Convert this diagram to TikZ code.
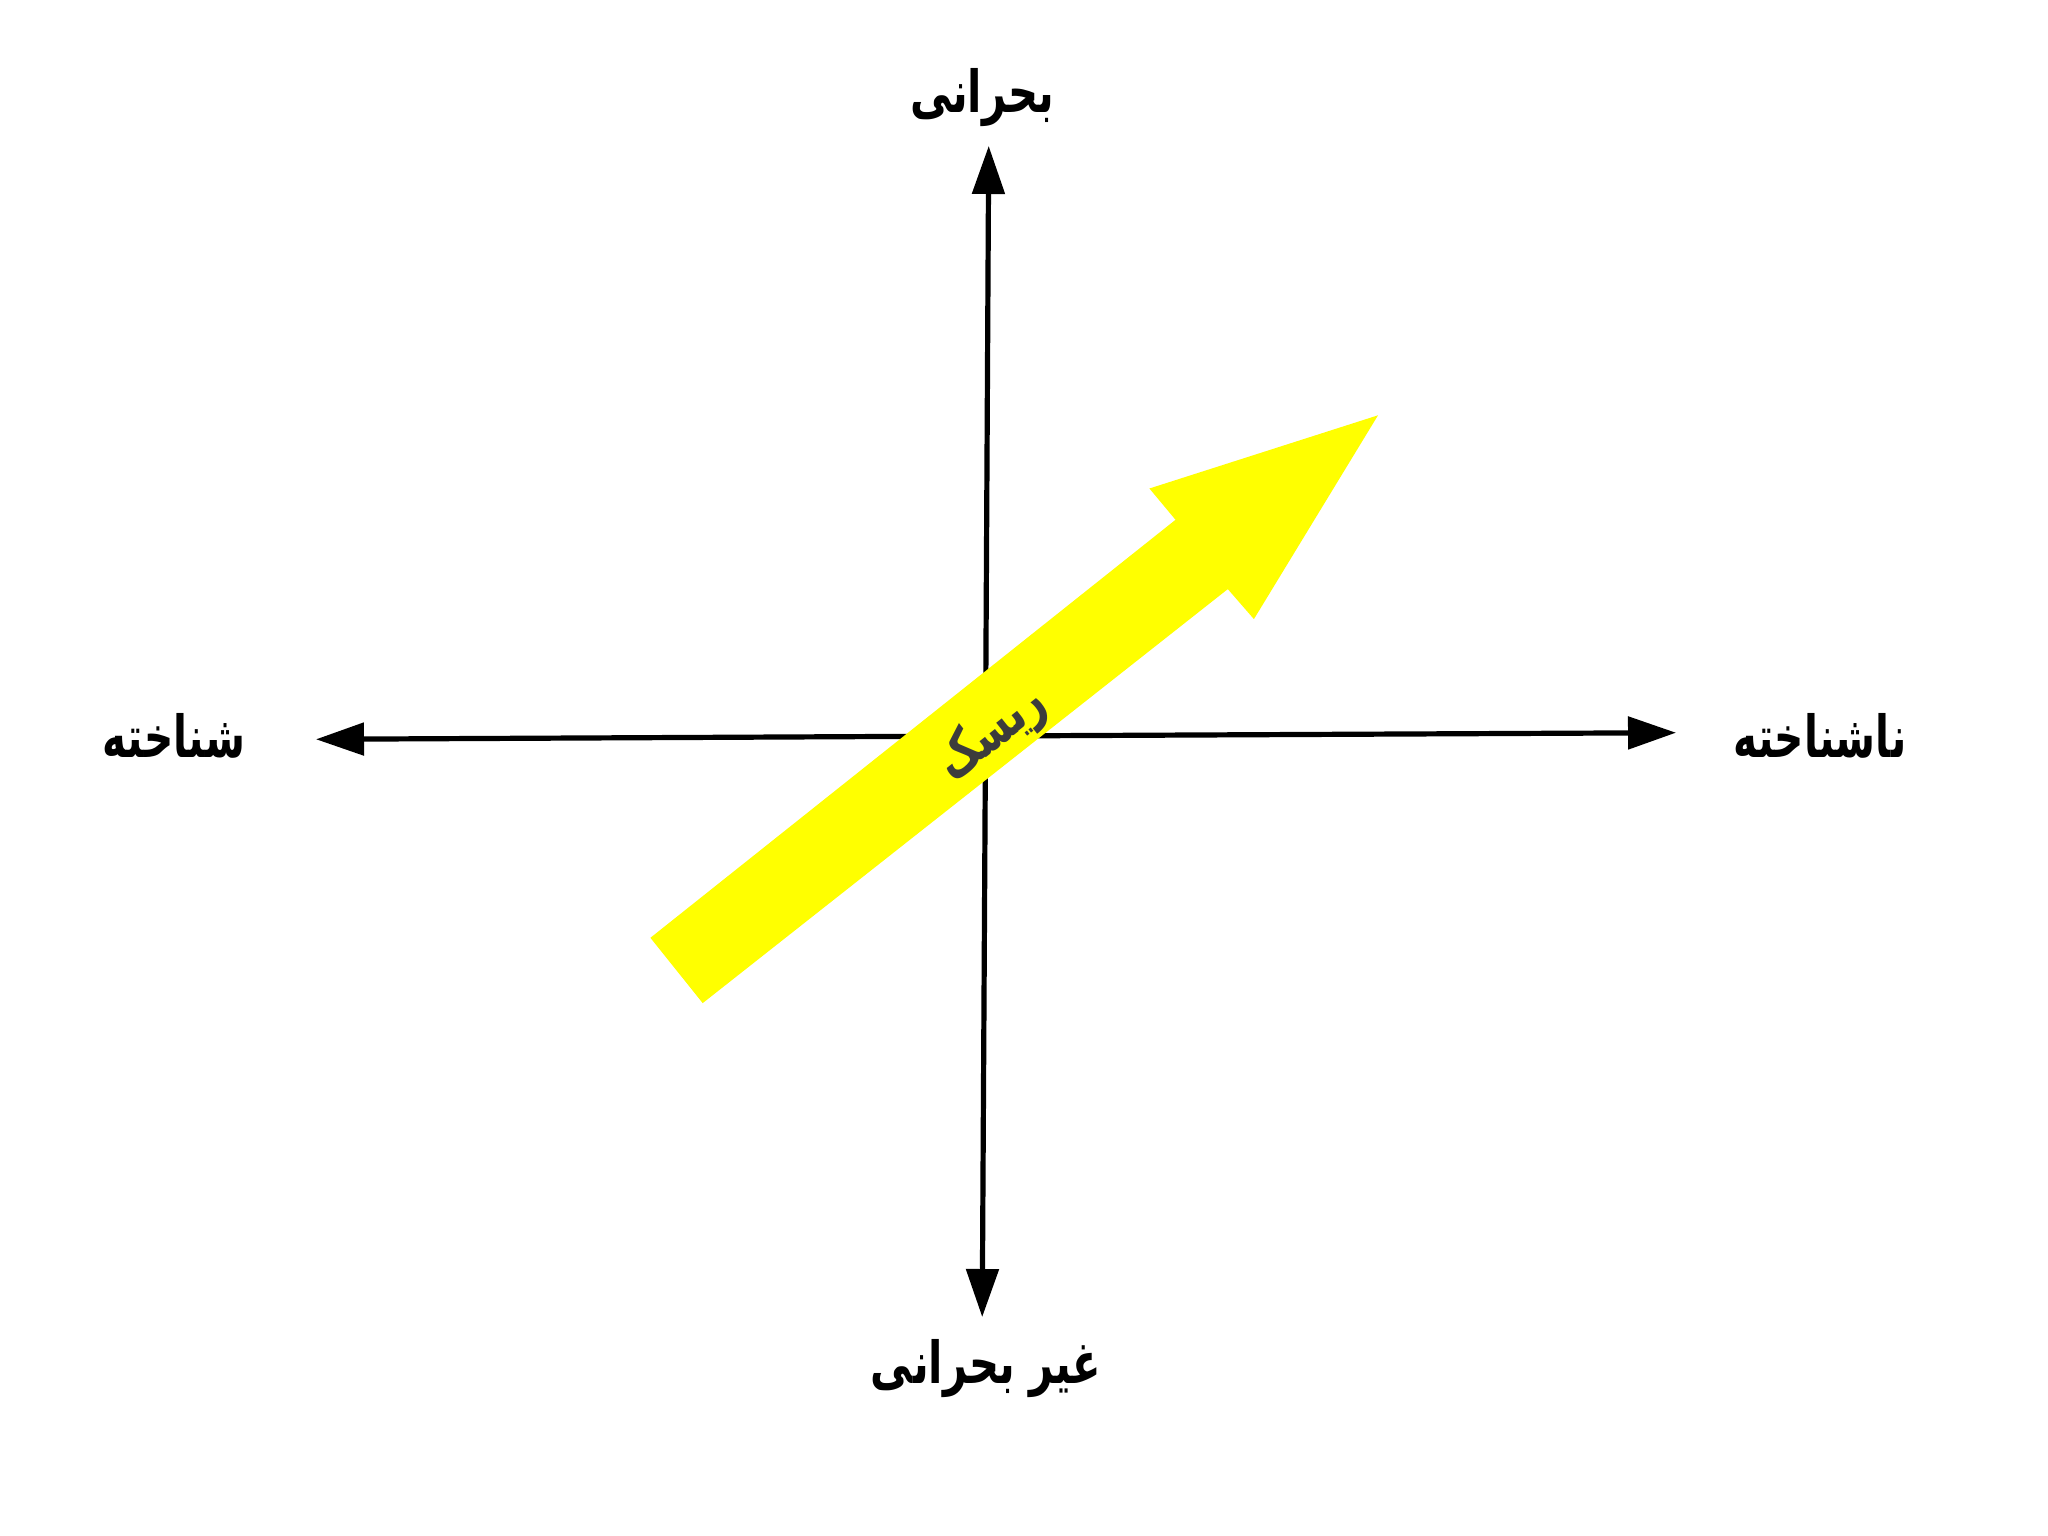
\documentclass[tikz,border=0pt]{standalone}
\usepackage{fontspec}
\usetikzlibrary{arrows.meta}
\TeXXeTstate=1
\newfontfamily\arabicfont[Script=Arabic]{DejaVu Sans}
\newcommand{\artext}[2]{\scalebox{#1}[1]{#2}}
\tikzset{
  axis/.style={line width=2.6pt, -{Triangle[length=24pt,width=16pt]}},
  lbl/.style={font=\arabicfont\bfseries\fontsize{29}{34}\selectfont, text=black, inner sep=0pt},
  riskarrow/.style={fill={rgb,255:red,255;green,255;blue,0}, draw=none},
  risktext/.style={font=\arabicfont\bfseries\fontsize{28}{32}\selectfont, text={rgb,255:red,60;green,60;blue,60}, inner sep=0pt}
}
\begin{document}
\begin{tikzpicture}[x=0.5pt,y=-0.5pt]
\useasboundingbox (0,0) rectangle (2048,1535);
\coordinate (c) at (985.5,736);
\coordinate (top) at (988.7,146);
\coordinate (bot) at (982.2,1317);
\coordinate (lft) at (316,739.3);
\coordinate (rgt) at (1676,732.7);
\draw[axis] (c) -- (top);
\draw[axis] (c) -- (bot);
\draw[axis] (c) -- (lft);
\draw[axis] (c) -- (rgt);
\node[lbl] (ltop) at (982,98) {\artext{0.72}{\beginR بحرانی\endR}};
\node[lbl] (lbot) at (986,1369) {\artext{0.72}{\beginR غیر بحرانی\endR}};
\node[lbl] (llft) at (174,736) {\artext{0.70}{\beginR شناخته\endR}};
\node[lbl] (lrgt) at (1820,736) {\artext{0.70}{\beginR ناشناخته\endR}};
\fill[riskarrow] (650.4,937.8) -- (1175.5,519.8) -- (1149.4,488.5) -- (1378,415.3) -- (1253.9,619.1) -- (1227.8,589.1) -- (702.7,1003.1) -- cycle;
\node[risktext, rotate=38.4] (risk) at (992,734) {\artext{0.72}{\beginR ریسک\endR}};
\end{tikzpicture}
\end{document}
